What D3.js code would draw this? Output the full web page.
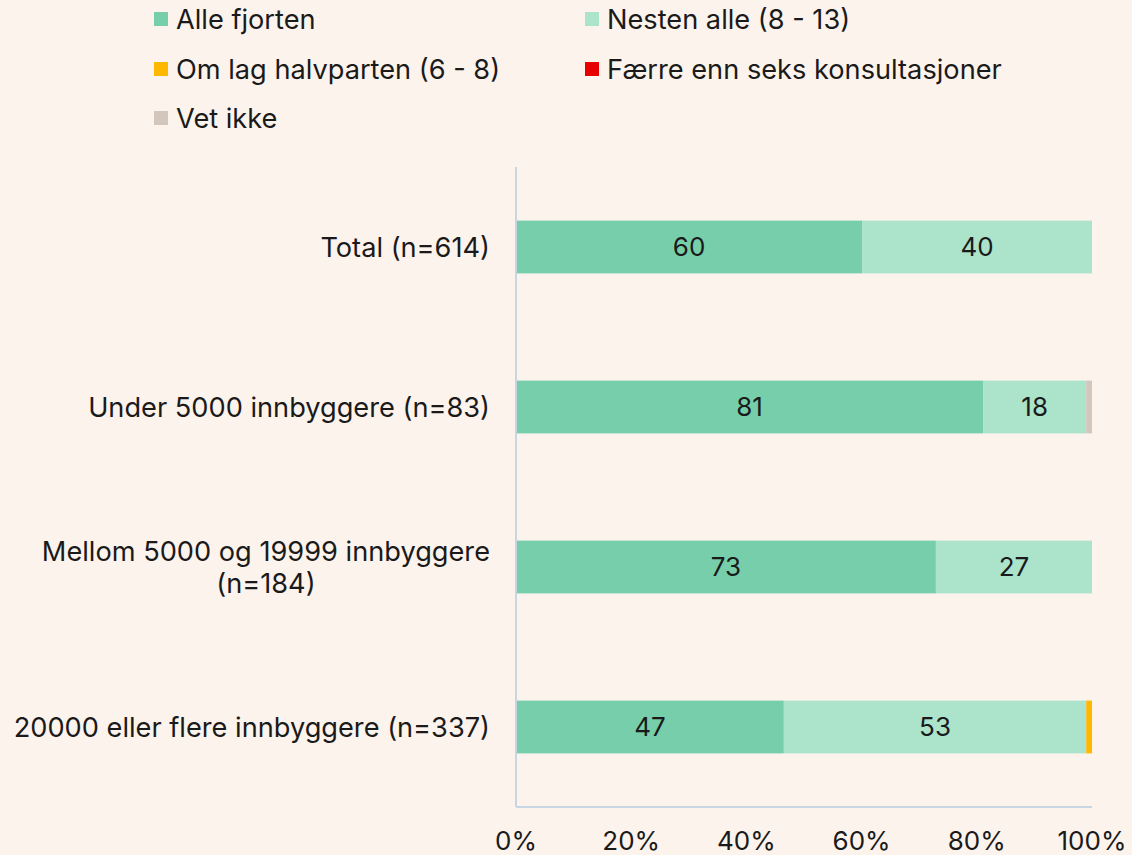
<!DOCTYPE html>
<html>
<head>
<meta charset="utf-8">
<script src="https://cdn.jsdelivr.net/npm/d3@7"></script>
<style>
  body { margin: 0; background: #fcf3ed; }
  svg { display: block; font-family: Inter, "Open Sans", sans-serif; }
  text { fill: #1a1a1a; }
</style>
</head>
<body>
<svg id="chart" width="1132" height="855"></svg>
<script>
// categories (top to bottom)
var categories = ["Total (n=614)", "Under 5000 innbyggere (n=83)",
                  ["Mellom 5000 og 19999 innbyggere", "(n=184)"],
                  "20000 eller flere innbyggere (n=337)"];
var seriesNames = ["Alle fjorten", "Nesten alle (8 - 13)", "Om lag halvparten (6 - 8)",
                   "Færre enn seks konsultasjoner", "Vet ikke"];
var seriesColors = ["#76cfaa", "#abe3cb", "#ffb800", "#e60000", "#d3c7bd"];
// values per series, one per category
var alleFjorten = [60.1, 81.1, 72.9, 46.5];
var nestenAlle = [39.9, 17.9, 27.1, 52.5];
var omLagHalvparten = [0, 0, 0, 1.0];
var faerreEnnSeks = [0, 0, 0, 0];
var vetIkke = [0, 1.0, 0, 0];
var tickValues = [0, 20, 40, 60, 80, 100];

var svg = d3.select("#chart");
var series = [alleFjorten, nestenAlle, omLagHalvparten, faerreEnnSeks, vetIkke];

var x = d3.scaleLinear().domain([0, 100]).range([516, 1092]);
var y = d3.scaleBand().domain(d3.range(categories.length)).range([167, 807]).paddingInner(0.67).paddingOuter(0.335);

// stacked rows
var rows = categories.map(function(c, i) {
    var acc = 0;
    return series.map(function(s, k) {
        var r = {k: k, i: i, x0: acc, x1: acc + s[i], v: s[i]};
        acc += s[i];
        return r;
    });
});

var g = svg.append("g");
rows.forEach(function(row) {
    g.selectAll(null).data(row.filter(function(d) { return d.v > 0; }))
    .enter().append("rect")
    .attr("x", function(d) { return x(d.x0); })
    .attr("width", function(d) { return x(d.x1) - x(d.x0); })
    .attr("y", function(d) { return y(d.i); })
    .attr("height", y.bandwidth())
    .attr("fill", function(d) { return seriesColors[d.k]; });

    g.selectAll(null).data(row.filter(function(d) { return d.v >= 5; }))
    .enter().append("text")
    .attr("x", function(d) { return (x(d.x0) + x(d.x1)) / 2; })
    .attr("y", function(d) { return y(d.i) + y.bandwidth() / 2; })
    .attr("dy", "0.35em")
    .attr("text-anchor", "middle")
    .style("font-size", "26px")
    .text(function(d) { return Math.round(d.v); });
});

// axes lines
svg.append("line").attr("x1", 516).attr("x2", 516).attr("y1", 167).attr("y2", 807)
   .attr("stroke", "#c8d5e3").attr("stroke-width", 2);
svg.append("line").attr("x1", 516).attr("x2", 1092).attr("y1", 807).attr("y2", 807)
   .attr("stroke", "#c8d5e3").attr("stroke-width", 2);

// x tick labels
svg.selectAll("text.tick").data(tickValues).enter().append("text")
   .attr("class", "tick")
   .attr("x", function(d) { return x(d); })
   .attr("y", 850)
   .attr("text-anchor", "middle")
   .style("font-size", "26px")
   .text(function(d) { return d + "%"; });

// category labels (multi-line ones are centred inside a right-aligned block)
categories.forEach(function(c, i) {
    var lines = Array.isArray(c) ? c : [c];
    var cy = y(i) + y.bandwidth() / 2;
    var t = svg.append("text").attr("text-anchor", "end").style("font-size", "27.2px");
    var spans = lines.map(function(l, j) {
        return t.append("tspan").attr("x", 490)
         .attr("y", cy + (j - (lines.length - 1) / 2) * 32)
         .attr("dy", "0.35em")
         .text(l);
    });
    if (lines.length > 1) {
        var w = d3.max(spans, function(s) { return s.node().getComputedTextLength(); });
        t.attr("text-anchor", "middle");
        spans.forEach(function(s) { s.attr("x", 490 - w / 2); });
    }
});

// legend
var legendPos = [[154, 19], [585, 19], [154, 69], [585, 69], [154, 118]];
seriesNames.forEach(function(n, k) {
    var p = legendPos[k];
    svg.append("rect").attr("x", p[0]).attr("y", p[1] - 7).attr("width", 14).attr("height", 14)
       .attr("fill", seriesColors[k]);
    svg.append("text").attr("x", p[0] + 22).attr("y", p[1]).attr("dy", "0.35em")
       .style("font-size", "27.2px").text(n);
});
</script>
</body>
</html>
